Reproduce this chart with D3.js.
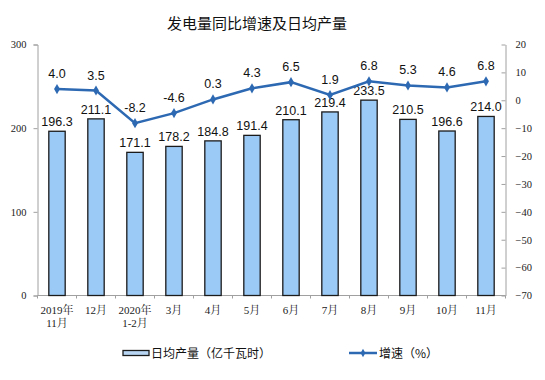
<!DOCTYPE html>
<html><head><meta charset="utf-8">
<script src="https://cdn.jsdelivr.net/npm/d3@7"></script>
<style>body{margin:0;background:#fff}</style>
</head><body>
<svg id="c" width="545" height="380"></svg>
<script>
const categories = [["2019年","11月"],["12月"],["2020年","1-2月"],["3月"],["4月"],["5月"],["6月"],["7月"],["8月"],["9月"],["10月"],["11月"]];
const output = [196.3,211.1,171.1,178.2,184.8,191.4,210.1,219.4,233.5,210.5,196.6,214.0];
const growth = [4.0,3.5,-8.2,-4.6,0.3,4.3,6.5,1.9,6.8,5.3,4.6,6.8];
const leftTicks = [0,100,200,300];
const rightTicks = [20,10,0,-10,-20,-30,-40,-50,-60,-70];
const title = "发电量同比增速及日均产量";
const legendBar = "日均产量（亿千瓦时）";
const legendLine = "增速（%）";

const svg = d3.select("#c");
const L = 37.5, R = 505.5, T = 44.5, B = 295.5;
const serif = "'Liberation Serif','Noto Serif CJK SC','Noto Sans CJK SC',serif";
const sans = "'Liberation Sans',Arial,'Noto Sans CJK SC',sans-serif";
const x = d3.scaleBand().domain(d3.range(categories.length)).range([L, R]).paddingInner(0.58).paddingOuter(0.29);
const yL = d3.scaleLinear().domain([0,300]).range([B,T]);
const yR = d3.scaleLinear().domain([-70,20]).range([B,T]);
const axisColor = "#a0a0a0";

svg.append("text").attr("x",257).attr("y",29).attr("text-anchor","middle")
  .attr("font-family","'Noto Sans CJK SC',sans-serif").attr("font-size",15).attr("fill","#111").text(title);

// left axis
const gl = svg.append("g").attr("transform",`translate(${L},0)`)
  .call(d3.axisLeft(yL).tickValues(leftTicks).tickSize(4).tickPadding(7));
gl.select(".domain").attr("stroke",axisColor);
gl.selectAll(".tick line").attr("stroke",axisColor);
gl.selectAll(".tick text").attr("font-family",serif).attr("font-size",10.5).attr("fill","#222");

// right axis (ticks inward)
const gr = svg.append("g").attr("transform",`translate(${R},0)`)
  .call(d3.axisRight(yR).tickValues(rightTicks).tickSizeInner(-4).tickSizeOuter(0).tickPadding(10));
gr.select(".domain").attr("stroke",axisColor);
gr.selectAll(".tick line").attr("stroke",axisColor);
gr.selectAll(".tick text").attr("font-family",serif).attr("font-size",10.5).attr("fill","#222");

// bottom axis
svg.append("line").attr("x1",L).attr("x2",R).attr("y1",B).attr("y2",B).attr("stroke",axisColor);
const step = x.step();
d3.range(categories.length+1).forEach(i=>{
  const xx = L + i*step;
  svg.append("line").attr("x1",xx).attr("x2",xx).attr("y1",B).attr("y2",B+3).attr("stroke",axisColor);
});

// bars
svg.selectAll("rect.bar").data(output).join("rect").attr("class","bar")
  .attr("x",(d,i)=>x(i)).attr("width",x.bandwidth())
  .attr("y",d=>yL(d)).attr("height",d=>B-yL(d))
  .attr("fill","#9ccaf6").attr("stroke","#1b1b1b").attr("stroke-width",1.3);
svg.selectAll("text.bl").data(output).join("text").attr("class","bl")
  .attr("x",(d,i)=>x(i)+x.bandwidth()/2).attr("y",d=>yL(d)-5)
  .attr("text-anchor","middle").attr("font-family",sans).attr("font-size",12.5).attr("fill","#111")
  .text(d=>d.toFixed(1));

// line
const lineColor = "#2d69b3";
const line = d3.line().x((d,i)=>x(i)+x.bandwidth()/2).y(d=>yR(d));
svg.append("path").datum(growth).attr("d",line).attr("fill","none").attr("stroke",lineColor).attr("stroke-width",2.5);
svg.selectAll("path.mk").data(growth).join("path").attr("class","mk")
  .attr("d",d3.symbol().type(d3.symbolDiamond).size(30))
  .attr("transform",(d,i)=>`translate(${x(i)+x.bandwidth()/2},${yR(d)})`).attr("fill",lineColor);
svg.selectAll("text.ll").data(growth).join("text").attr("class","ll")
  .attr("x",(d,i)=>x(i)+x.bandwidth()/2).attr("y",d=>yR(d)-11)
  .attr("text-anchor","middle").attr("font-family",sans).attr("font-size",12.5).attr("fill","#111")
  .text(d=>d.toFixed(1));

// x labels
categories.forEach((c,i)=>{
  const t = svg.append("text").attr("text-anchor","middle").attr("font-family",serif)
    .attr("font-size",11).attr("fill","#222");
  c.forEach((s,j)=>t.append("tspan").attr("x",x(i)+x.bandwidth()/2).attr("y",314+j*13).text(s));
});

// legend
svg.append("rect").attr("x",123).attr("y",350.5).attr("width",26).attr("height",5)
  .attr("fill","#b8d6f4").attr("stroke","#1b1b1b").attr("stroke-width",1.3);
svg.append("text").attr("x",151).attr("y",357.5).attr("font-family","'Noto Sans CJK SC',sans-serif")
  .attr("font-size",12).attr("fill","#111").text(legendBar);
svg.append("line").attr("x1",349).attr("x2",377).attr("y1",353).attr("y2",353).attr("stroke",lineColor).attr("stroke-width",2.5);
svg.append("path").attr("d",d3.symbol().type(d3.symbolDiamond).size(20)).attr("transform","translate(363,353)").attr("fill",lineColor);
svg.append("text").attr("x",379).attr("y",357.5).attr("font-family","'Noto Sans CJK SC',sans-serif")
  .attr("font-size",12).attr("fill","#111").text(legendLine);
</script>
</body></html>
